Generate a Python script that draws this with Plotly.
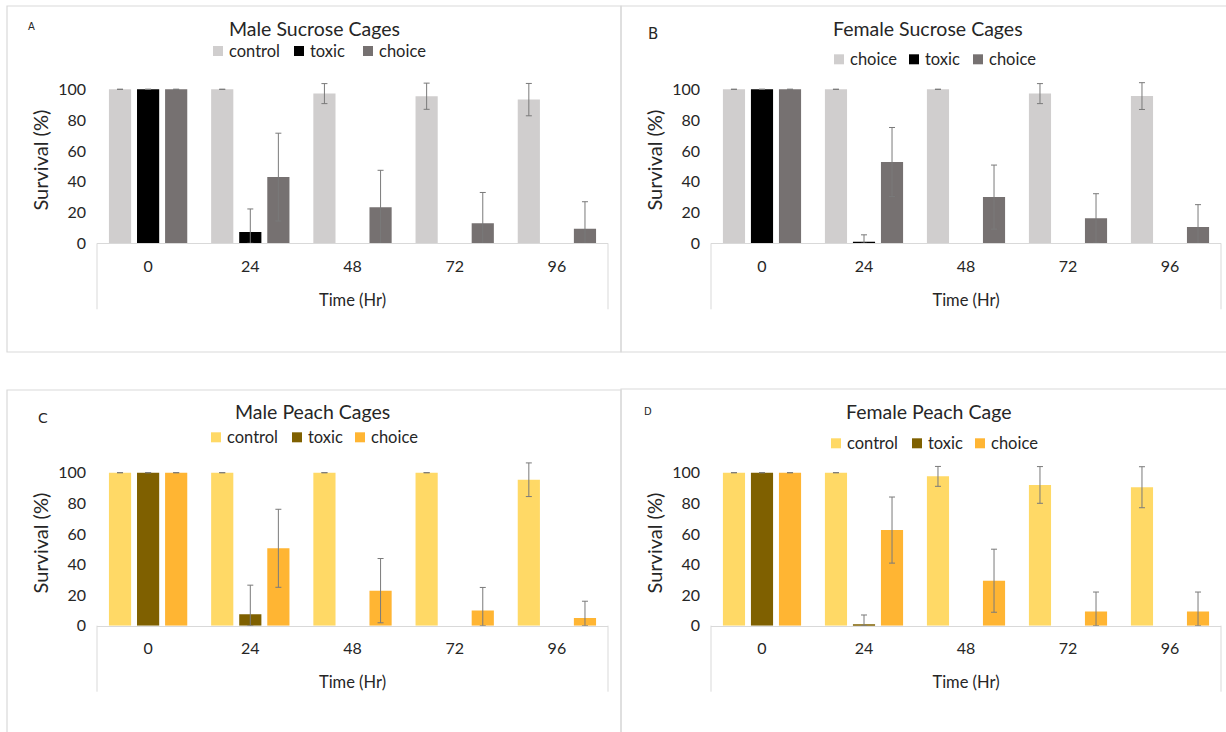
import plotly.graph_objects as go

# ---- data -------------------------------------------------------------
hours = ["0", "24", "48", "72", "96"]

# Male sucrose cages (panel A); toxic cages had no survivors after 24 h
a_control = [100, 100, 97.2, 95.5, 93.3]
a_control_err = [0, 0, 6.5, 8.5, 10.5]
a_toxic = [100, 7.3, None, None, None]
a_toxic_err = [0, 15, 0, 0, 0]
a_choice = [100, 43, 23.4, 13, 9.5]
a_choice_err = [0, 28.5, 24, 20, 17.5]

# Female sucrose cages (panel B)
b_control = [100, 100, 100, 97.2, 95.6]
b_control_err = [0, 0, 0, 6.5, 8.7]
b_toxic = [100, 1, None, None, None]
b_toxic_err = [0, 4.5, 0, 0, 0]
b_choice = [100, 52.8, 30, 16.2, 10.6]
b_choice_err = [0, 22.4, 20.8, 16, 14.5]

# Male peach cages (panel C)
c_control = [100, 100, 100, 100, 95.4]
c_control_err = [0, 0, 0, 0, 11]
c_toxic = [100, 7.5, None, None, None]
c_toxic_err = [0, 19, 0, 0, 0]
c_choice = [100, 50.6, 22.9, 10, 5]
c_choice_err = [0, 25.5, 21, 15, 11]

# Female peach cage (panel D)
d_control = [100, 100, 97.6, 92, 90.5]
d_control_err = [0, 0, 6.5, 12, 13.4]
d_toxic = [100, 1, None, None, None]
d_toxic_err = [0, 6, 0, 0, 0]
d_choice = [100, 62.5, 29.4, 9.2, 9.2]
d_choice_err = [0, 21.6, 20.6, 12.8, 12.8]

panel_titles = ["Male Sucrose Cages", "Female Sucrose Cages",
                "Male Peach Cages", "Female Peach Cage"]
panel_letters = ["A", "B", "C", "D"]
legend_names = [["control", "toxic", "choice"],
                ["choice", "toxic", "choice"],
                ["control", "toxic", "choice"],
                ["control", "toxic", "choice"]]
y_ticks = [0, 20, 40, 60, 80, 100]

# ---- styling -----------------------------------------------------------
W, H = 1226, 732
FONT = "Lato"
TXT = "#262626"
FRAME = "#d9d9d9"
ERRC = "#7a7a7a"
sucrose_colors = ["#d0cece", "#000000", "#767171"]
peach_colors = ["#ffd966", "#7f6000", "#ffb533"]


def px(x):
    return x / W


def py(y):
    return 1 - y / H


# pixel boxes of the four plotting areas (left, right, zero-line, px per unit)
Y_MAX = 108
boxes = [
    (97, 608, 243.3, 1.54),
    (711, 1221, 243.3, 1.54),
    (97, 608, 625.7, 1.53),
    (711, 1221, 625.7, 1.53),
]

panels = [
    (a_control, a_control_err, a_toxic, a_toxic_err, a_choice, a_choice_err, sucrose_colors),
    (b_control, b_control_err, b_toxic, b_toxic_err, b_choice, b_choice_err, sucrose_colors),
    (c_control, c_control_err, c_toxic, c_toxic_err, c_choice, c_choice_err, peach_colors),
    (d_control, d_control_err, d_toxic, d_toxic_err, d_choice, d_choice_err, peach_colors),
]

fig = go.Figure()
layout = {}
shapes = []
annotations = []

# title / key / letter positions per panel (pixels)
title_pos = [(314, 29), (928, 28.5), (313, 411.5), (928, 411)]
key_rows = [(51, [213, 294, 363]), (59.3, [834, 909, 973]),
            (437.3, [211, 292, 355]), (443.3, [831, 912, 975])]
letter_pos = [(31, 26, 10), (653, 34, 15), (43, 418, 14), (648, 412, 10)]
SW = 10  # key swatch size

for i, (panel, box) in enumerate(zip(panels, boxes)):
    ctrl, ctrl_e, tox, tox_e, cho, cho_e, cols = panel
    left, right, zero_y, ppu = box
    top_y = zero_y - Y_MAX * ppu
    n = "" if i == 0 else str(i + 1)
    xa, ya = "x" + n, "y" + n

    series = [(ctrl, ctrl_e), (tox, tox_e), (cho, cho_e)]
    for k, (vals, errs) in enumerate(series):
        minus = [e if v is None else min(e, v) for e, v in zip(errs, vals)]
        fig.add_trace(go.Bar(
            x=hours, y=vals, name=legend_names[i][k], showlegend=False,
            marker=dict(color=cols[k], line=dict(width=0)),
            error_y=dict(type="data", array=errs, arrayminus=minus,
                         symmetric=False, color=ERRC, thickness=1, width=3),
            xaxis=xa, yaxis=ya,
        ))

    layout["xaxis" + n] = dict(
        domain=[px(left), px(right)], anchor=ya, type="category",
        showgrid=False, zeroline=False, showline=True, linecolor=FRAME,
        linewidth=1, ticks="", ticklabelstandoff=8, automargin=False,
        tickfont=dict(family=FONT, size=16, color=TXT),
        title=dict(text="Time (Hr)", standoff=20,
                   font=dict(family=FONT, size=16.5, color=TXT)),
    )
    layout["yaxis" + n] = dict(
        domain=[py(zero_y), py(top_y)], anchor=xa, range=[0, Y_MAX],
        tickvals=y_ticks, showgrid=False, zeroline=False, showline=False,
        ticks="", ticklabelstandoff=10, automargin=False,
        tickfont=dict(family=FONT, size=16, color=TXT),
        title=dict(text="Survival (%)", standoff=4,
                   font=dict(family=FONT, size=20, color=TXT)),
    )

    # vertical rules of the category table under the axis
    for xv in (left, right):
        shapes.append(dict(type="line", xref="paper", yref="paper",
                           x0=px(xv), x1=px(xv), y0=py(zero_y), y1=py(zero_y + 66),
                           line=dict(color=FRAME, width=1)))

    tx, ty = title_pos[i]
    annotations.append(dict(text=panel_titles[i], x=px(tx), y=py(ty),
                            xref="paper", yref="paper", showarrow=False,
                            xanchor="center", yanchor="middle",
                            font=dict(family=FONT, size=19.5, color=TXT)))
    lx, ly, ls = letter_pos[i]
    annotations.append(dict(text=panel_letters[i], x=px(lx), y=py(ly),
                            xref="paper", yref="paper", showarrow=False,
                            xanchor="center", yanchor="middle",
                            font=dict(family="DejaVu Sans", size=ls, color=TXT)))

    # series key: colour swatch followed by the series name
    ky, kxs = key_rows[i]
    for k, kx in enumerate(kxs):
        shapes.append(dict(type="rect", xref="paper", yref="paper",
                           x0=px(kx), x1=px(kx + SW),
                           y0=py(ky - SW / 2), y1=py(ky + SW / 2),
                           fillcolor=cols[k], line=dict(width=0)))
        annotations.append(dict(text=legend_names[i][k], x=px(kx + SW + 4), y=py(ky),
                                xref="paper", yref="paper", showarrow=False,
                                xanchor="left", yanchor="middle",
                                font=dict(family=FONT, size=16.5, color=TXT)))

# panel frames
for x0, x1, y0, y1 in [(7, 621, 6, 352), (621, 1240, 6, 352),
                       (7, 621, 390, 745), (621, 1240, 389, 745)]:
    shapes.append(dict(type="rect", xref="paper", yref="paper",
                       x0=px(x0), x1=px(x1), y0=py(y0), y1=py(y1),
                       line=dict(color=FRAME, width=1.2), fillcolor="rgba(0,0,0,0)",
                       layer="below"))

fig.update_layout(
    width=W, height=H, margin=dict(l=0, r=0, t=0, b=0),
    paper_bgcolor="white", plot_bgcolor="white",
    barmode="group", bargap=0.176, bargroupgap=0.21,
    showlegend=False, shapes=shapes, annotations=annotations,
    font=dict(family=FONT, color=TXT),
    **layout,
)

fig.write_html("out.html")
